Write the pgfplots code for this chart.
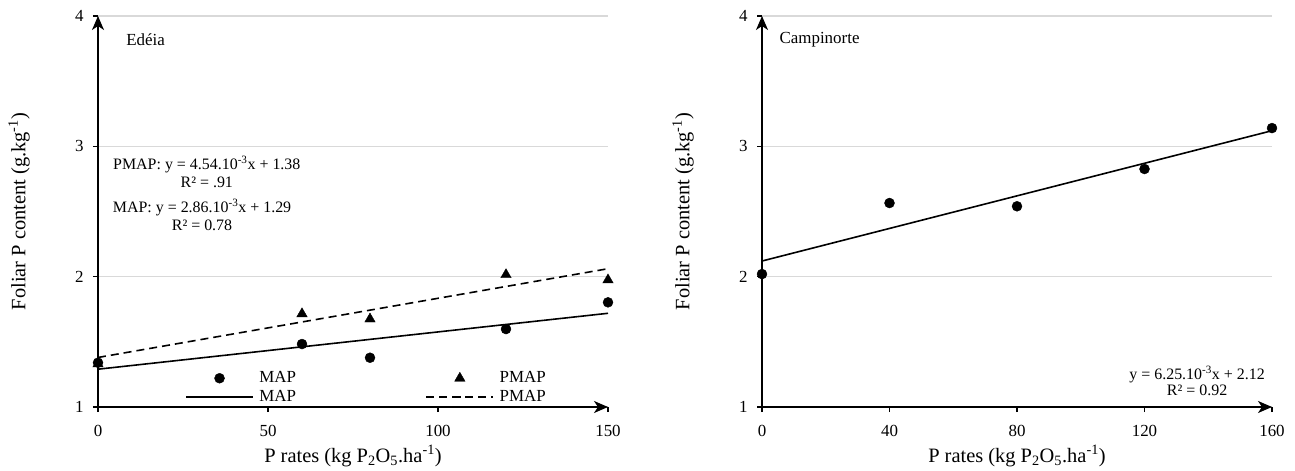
\documentclass[border=0pt]{standalone}
\usepackage{fontspec}
\setmainfont{Liberation Serif}
\usepackage{pgfplots}
\pgfplotsset{compat=1.18}
\usetikzlibrary{arrows.meta}
\definecolor{gridgray}{HTML}{D9D9D9}
\pgfplotsset{
  mystyle/.style={
    scale only axis, width=510bp, height=391bp,
    axis lines=left,
    axis line style={black, line width=1.6bp, -{Stealth[length=14bp,width=12bp,inset=4bp]}},
    enlargelimits=false, clip=false,
    ymin=1, ymax=4, ytick={1,2,3,4},
    ymajorgrids, grid style={gridgray, line width=1.6bp},
    tick align=outside, major tick length=5bp,
    tick style={black, line width=1.2bp},
    /pgf/number format/assume math mode=true,
    ticklabel style={font=\fontsize{17}{17}\selectfont},
    yticklabel style={xshift=-6bp},
    xticklabel style={yshift=-10bp},
    every axis x label/.style={at={(axis description cs:0.5,0)}, anchor=center, yshift=-49bp, font=\fontsize{20.5}{22}\selectfont},
    every axis y label/.style={at={(axis description cs:0,0.5)}, anchor=center, rotate=90, yshift=79bp, font=\fontsize{20.5}{22}\selectfont},
    xlabel={P rates (kg P\textsubscript{2}O\textsubscript{5}.ha\textsuperscript{-1})},
    ylabel={Foliar P content (g.kg\textsuperscript{-1})},
  },
  ptsc/.style={only marks, mark=*, mark size=5bp, black},
  ptst/.style={only marks, mark=triangle*, mark size=6bp, black},
}
\begin{document}
\begin{tikzpicture}
\path[use as bounding box] (0,0) rectangle (1295bp,471bp);
% ---------- Edeia ----------
\begin{axis}[mystyle, at={(98bp,64bp)}, anchor=south west,
  xmin=0, xmax=150, xtick={0,50,100,150},
  legend columns=2,
  legend image code/.code={\draw[mark repeat=2,mark phase=2,#1] plot coordinates {(0bp,0bp) (33.5bp,0bp) (67bp,0bp)};},
  legend style={draw=none, fill=none, at={(axis cs:25.6,1.295)}, anchor=north west,
    font=\fontsize{17}{17}\selectfont, inner sep=0pt, row sep=0pt,
    nodes={inner sep=1.5bp, text height=12bp, text depth=4bp},
    /tikz/every odd column/.append style={column sep=0bp},
    /tikz/every even column/.append style={column sep=128bp}},
  legend cell align=left]
\addlegendimage{ptsc}\addlegendentry{\hspace{4bp}MAP}
\addlegendimage{ptst}\addlegendentry{\hspace{4bp}PMAP}
\addlegendimage{black, line width=1.6bp}\addlegendentry{\hspace{4bp}MAP}
\addlegendimage{black, line width=1.6bp, dash pattern=on 8bp off 5bp}\addlegendentry{\hspace{4bp}PMAP}
\addplot[black, line width=1.6bp, forget plot] coordinates {(0,1.29) (150,1.719)};
\addplot[black, line width=1.6bp, dash pattern=on 8bp off 5bp, forget plot] coordinates {(0,1.38) (150,2.061)};
\addplot[ptst, forget plot] coordinates {(0,1.33) (60,1.715) (80,1.675) (120,2.015) (150,1.975)};
\addplot[ptsc, forget plot] coordinates {(0,1.34) (60,1.483) (80,1.378) (120,1.598) (150,1.803)};
\node[anchor=west, font=\fontsize{17}{17}\selectfont] at (axis cs:7.3,3.816) {Edéia};
\node[align=center, font=\fontsize{16}{18}\selectfont] at (axis cs:32,2.803) {PMAP: y = 4.54.10\textsuperscript{-3}x + 1.38\\R² = .91};
\node[align=center, font=\fontsize{16}{18}\selectfont] at (axis cs:30.6,2.476) {MAP: y = 2.86.10\textsuperscript{-3}x + 1.29\\R² = 0.78};
\end{axis}
% ---------- Campinorte ----------
\begin{axis}[mystyle, at={(762bp,64bp)}, anchor=south west,
  xmin=0, xmax=160, xtick={0,40,80,120,160}]
\addplot[black, line width=1.6bp] coordinates {(0,2.12) (160,3.12)};
\addplot[ptsc] coordinates {(0,2.02) (40,2.565) (80,2.54) (120,2.826) (160,3.14)};
\node[anchor=west, font=\fontsize{17}{17}\selectfont] at (axis cs:4.4,3.816) {Campinorte};
\node[align=center, font=\fontsize{16}{16}\selectfont] at (axis cs:136.5,1.203) {y = 6.25.10\textsuperscript{-3}x + 2.12\\R² = 0.92};
\end{axis}
\end{tikzpicture}
\end{document}
